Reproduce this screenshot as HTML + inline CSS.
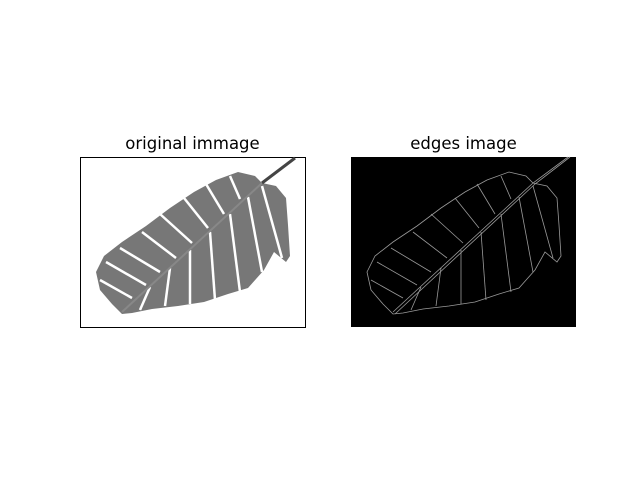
<!DOCTYPE html>
<html><head><meta charset="utf-8"><style>
body{margin:0;background:#fff;}
svg{display:block;font-family:"DejaVu Sans","Liberation Sans",sans-serif;}
</style></head><body>
<svg width="640" height="480" viewBox="0 0 640 480">
<defs>
<path id="leafOutline" d="M122,314 L112,304 L100,290 L96,272 L104,256 L122,242 L146,226 L170,208 L194,192 L216,180 L238,172 L255,176 L262,183 L276,186 L286,198 L288,225 L290,256 L286,262 L274,252 L264,270 L248,288 L228,294 L204,302 L178,306 L152,309 L132,313 Z"/>
<g id="veinsUp">
<path d="M132,298 L100,280"/><path d="M146,285 L106,262"/><path d="M160,272 L120,248"/><path d="M176,258 L142,232"/><path d="M192,243 L160,214"/><path d="M208,228 L184,198"/><path d="M224,214 L206,184"/><path d="M240,199 L230,176"/>
</g>
<g id="veinsDown">
<path d="M150,287 L140,310"/><path d="M170,268 L165,306"/><path d="M190,250 L190,304"/><path d="M210,232 L215,300"/><path d="M230,214 L240,292"/><path d="M248,197 L262,272"/><path d="M262,186 L282,258"/>
</g>
</defs>
<text x="192.5" y="149" text-anchor="middle" font-size="16.5">original immage</text>
<text x="463.5" y="149" text-anchor="middle" font-size="16.5">edges image</text>
<g>
<rect x="80.5" y="157.5" width="225" height="170" fill="#fff" stroke="#000" stroke-width="1"/>
<use href="#leafOutline" fill="#777"/>
<g stroke="#fff" stroke-width="2.5" fill="none"><use href="#veinsUp"/><use href="#veinsDown"/></g>
<path d="M122,312 L262,183" stroke="#888" stroke-width="2" fill="none"/>
<path d="M262,183 L295,158" stroke="#444" stroke-width="3" fill="none"/>
</g>
<g>
<rect x="351" y="157" width="225" height="170" fill="#000"/>
<g transform="translate(271,0)" stroke="#9a9a9a" stroke-width="0.8" fill="none">
<use href="#leafOutline"/><use href="#veinsUp"/><use href="#veinsDown"/>
<path d="M122,312 L262,183 L297,157"/><path d="M124,314 L264,184 L299,157"/>
</g>
</g>
</svg>
</body></html>
